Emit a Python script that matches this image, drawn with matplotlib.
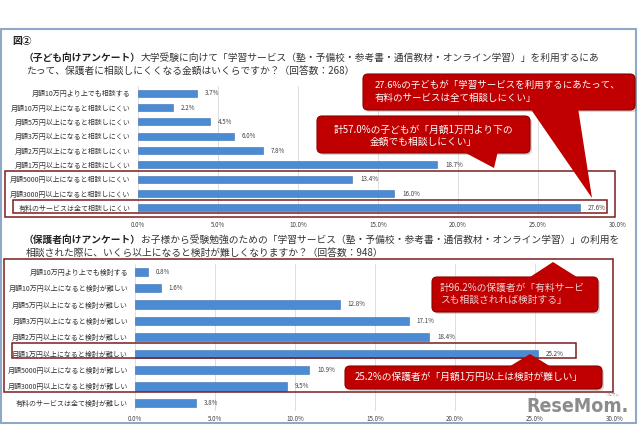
import matplotlib.pyplot as plt
from matplotlib.patches import FancyBboxPatch, Polygon, Rectangle

plt.rcParams['font.family'] = ['Noto Sans CJK JP', 'DejaVu Sans']

W, H = 640, 429

# === Data === #
top_labels = ["月額10万円より上でも相談する", "月額10万円以上になると相談しにくい",
              "月額5万円以上になると相談しにくい", "月額3万円以上になると相談しにくい",
              "月額2万円以上になると相談しにくい", "月額1万円以上になると相談にしくい",
              "月額5000円以上になると相談しにくい", "月額3000円以上になると相談しにくい",
              "有料のサービスは全て相談しにくい"]
top_values = [3.7, 2.2, 4.5, 6.0, 7.8, 18.7, 13.4, 16.0, 27.6]

bottom_labels = ["月額10万円より上でも検討する", "月額10万円以上になると検討が難しい",
                 "月額5万円以上になると検討が難しい", "月額3万円以上になると検討が難しい",
                 "月額2万円以上になると検討が難しい", "月額1万円以上になると検討が難しい",
                 "月額5000円以上になると検討が難しい", "月額3000円以上になると検討が難しい",
                 "有料のサービスは全て検討が難しい"]
bottom_values = [0.8, 1.6, 12.8, 17.1, 18.4, 25.2, 10.9, 9.5, 3.8]

ticks = [0, 5, 10, 15, 20, 25, 30]
tick_labels = [f"{t:.1f}%" for t in ticks]

BAR = '#4a8bd4'
RED = '#c00000'
DARK = '#7b1c1c'

fig = plt.figure(figsize=(6.4, 4.29), dpi=100)


def px_axes(x0, y0, x1, y1):
    return fig.add_axes([x0 / W, 1 - y1 / H, (x1 - x0) / W, (y1 - y0) / H])


def bar_panel(ax, labels, values, pad, xpad):
    y = list(range(len(labels)))
    ax.barh(y, values, height=0.5, color=BAR, edgecolor='#3a70b0', linewidth=0.4, zorder=3)
    for yi, v in zip(y, values):
        ax.text(v + 0.5, yi, f"{v:.1f}%", va='center', ha='left', fontsize=4.5, color='#404040')
    ax.set_xlim(0, 30)
    ax.set_ylim(len(labels) - 0.5, -0.5)
    ax.set_xticks(ticks)
    ax.set_xticklabels(tick_labels, fontsize=4.5, color='#404040')
    ax.set_yticks(y)
    ax.set_yticklabels(labels, fontsize=5, color='#333333')
    ax.tick_params(length=0)
    ax.tick_params(axis='y', pad=pad)
    ax.tick_params(axis='x', pad=xpad)
    ax.grid(axis='x', color='#d9d9d9', linewidth=0.6, zorder=0)
    ax.set_facecolor('none')
    for s in ax.spines.values():
        s.set_visible(False)


ax1 = px_axes(138, 86, 618, 215)
bar_panel(ax1, top_labels, top_values, 5.5, 4.5)
ax2 = px_axes(135, 263.5, 615, 411)
bar_panel(ax2, bottom_labels, bottom_values, 5, 3)

# === Overlay in pixel coordinates === #
ov = fig.add_axes([0, 0, 1, 1])
ov.set_xlim(0, W)
ov.set_ylim(H, 0)
ov.axis('off')
ov.patch.set_alpha(0)
ov.set_zorder(5)

ov.add_patch(Rectangle((1, 29), 635, 394, fill=False, edgecolor='#8fa8c8', lw=1.5))

ov.text(12, 41, "図②", fontsize=7, fontweight='bold', va='center', color='#222222')

fig.canvas.draw()
renderer = fig.canvas.get_renderer()


def title_line(x, y, bold, rest):
    t = ov.text(x, y, bold, fontsize=7, fontweight='bold', va='center', color='#222222')
    bb = t.get_window_extent(renderer)
    x_end = ov.transData.inverted().transform((bb.x1, bb.y0))[0]
    ov.text(x_end, y, rest, fontsize=7, va='center', color='#333333')


title_line(24, 58, "（子ども向けアンケート）",
           "大学受験に向けて「学習サービス（塾・予備校・参考書・通信教材・オンライン学習）」を利用するにあ")
ov.text(26, 71, "たって、保護者に相談しにくくなる金額はいくらですか？（回答数：268）",
        fontsize=7, va='center', color='#333333')

title_line(24, 240, "（保護者向けアンケート）",
           "お子様から受験勉強のための「学習サービス（塾・予備校・参考書・通信教材・オンライン学習）」の利用を")
ov.text(26, 253, "相談された際に、いくら以上になると検討が難しくなりますか？（回答数：948）",
        fontsize=7, va='center', color='#333333')

# highlight boxes
for x0, y0, x1, y1 in [(5, 170.5, 615, 217), (13, 200, 607, 213),
                       (4, 259, 613, 392), (12, 343, 576, 358)]:
    ov.add_patch(Rectangle((x0, y0), x1 - x0, y1 - y0, fill=False, edgecolor=DARK, lw=1.1))


def callout(x0, y0, x1, y1, tail):
    ov.add_patch(FancyBboxPatch((x0 + 2, y0 + 2), x1 - x0, y1 - y0,
                                boxstyle="round,pad=0,rounding_size=5",
                                fc='#888888', ec='none', alpha=0.35))
    ov.add_patch(FancyBboxPatch((x0, y0), x1 - x0, y1 - y0,
                                boxstyle="round,pad=0,rounding_size=5",
                                fc=RED, ec='#8a0000', lw=0.8))
    ov.add_patch(Polygon(tail, closed=True, fc=RED, ec='none'))


callout(363, 74, 635, 110, [(530, 108), (578, 108), (592, 198)])
ov.text(375, 85, "27.6%の子どもが「学習サービスを利用するにあたって、", fontsize=6.8,
        color='white', va='center')
ov.text(375, 98, "有料のサービスは全て相談しにくい」", fontsize=6.8, color='white', va='center')

callout(317, 116, 530, 153, [(462, 151), (498, 151), (494, 168)])
ov.text(423, 130, "計57.0%の子どもが「月額1万円より下の", fontsize=7, color='white',
        va='center', ha='center')
ov.text(423, 142, "金額でも相談しにくい」", fontsize=7, color='white', va='center', ha='center')

callout(432, 277, 598, 312, [(527, 279), (580, 279), (553, 262)])
ov.text(440, 288, "計96.2%の保護者が「有料サービ", fontsize=7, color='#f2d0d0', va='center')
ov.text(440, 300, "スも相談されれば検討する」", fontsize=7, color='#f2d0d0', va='center')

callout(345, 366, 602, 389, [(507, 368), (553, 368), (530, 354)])
ov.text(469, 377, "25.2%の保護者が「月額1万円以上は検討が難しい」", fontsize=7, color='white',
        va='center', ha='center')

# logo
ov.text(577, 406, "ReseMom.", fontsize=14, fontweight='bold', color='#8c8c8c',
        ha='center', va='center', family='DejaVu Sans', stretch='condensed')
ov.text(612, 395, "リセマム", fontsize=2.5, color='#8c8c8c', ha='center', va='center')

fig.savefig('out.png', dpi=100)
